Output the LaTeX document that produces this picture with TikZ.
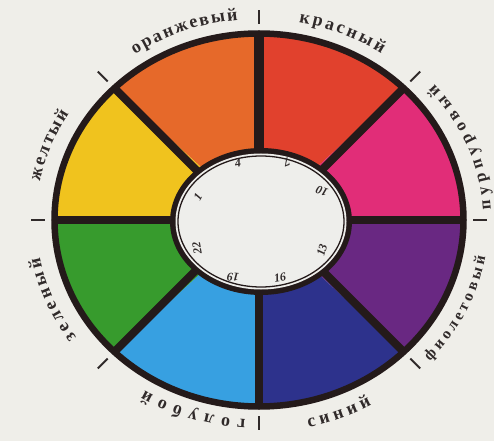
\documentclass[tikz,border=0pt]{standalone}
\usepackage{fontspec}
\setmainfont{Liberation Serif}
\usetikzlibrary{decorations.text}
\definecolor{bg}{HTML}{EFEEE9}
\definecolor{dark}{HTML}{241A1A}
\definecolor{txt}{HTML}{302A2A}
\definecolor{inner}{HTML}{EEEEEB}
\definecolor{corange}{HTML}{E6692A}
\definecolor{cred}{HTML}{E1412D}
\definecolor{cmag}{HTML}{E12D78}
\definecolor{cviol}{HTML}{692882}
\definecolor{cblue}{HTML}{2D328C}
\definecolor{clblue}{HTML}{37A0E1}
\definecolor{cgreen}{HTML}{379B2D}
\definecolor{cyellow}{HTML}{F0C31E}
\newcommand\arclabel[6]{%
  \path[decorate, decoration={text along path, text align={fit to path},
    text color=txt, text={|\fontsize{#6}{#6}\selectfont\bfseries|#5}}]
    (#1:#3 and #4) arc[start angle=#1, end angle=#2, x radius=#3, y radius=#4];}
\tikzset{
  num/.style={font=\fontsize{12}{12}\selectfont\bfseries\itshape, text=txt, inner sep=0pt},
  divider/.style={line width=8pt, dark},
  tickmark/.style={line width=2pt, txt}
}
\begin{document}
\begin{tikzpicture}[x=1pt,y=1pt]
\useasboundingbox[fill=bg] (-259pt,-221pt) rectangle (235pt,220pt);
% sectors
\foreach \s/\e/\c in {90/135/corange, 45/90/cred, 0/45/cmag, -45/0/cviol,
  -90/-45/cblue, -135/-90/clblue, 180/225/cgreen, 135/180/cyellow}
  \fill[\c] (0pt,0pt) -- (\s:204.5pt and 186.5pt)
    arc[start angle=\s, end angle=\e, x radius=204.5pt, y radius=186.5pt] -- cycle;
% dividers
\foreach \t in {0,45,135,180,225,270,315}
  \draw[divider] (\t:78pt and 60pt) -- (\t:205pt and 187pt);
\draw[divider, line width=10pt] (90:78pt and 60pt) -- (90:205pt and 187pt);
% outer border
\draw[line width=6.5pt, dark] (0pt,0pt) ellipse[x radius=204.5pt, y radius=186.5pt];
% inner disc
\fill[dark] (2pt,-1.5pt) ellipse[x radius=91pt, y radius=73.5pt];
\fill[inner] (2pt,-1.5pt) ellipse[x radius=85.5pt, y radius=68pt];
\draw[dark, line width=1.3pt] (2pt,-1.5pt) ellipse[x radius=83pt, y radius=65.5pt];
% ticks
\foreach \t in {0,45,...,315}
  \draw[tickmark] (\t:214pt and 196pt) -- (\t:228pt and 210pt);
% labels
\arclabel{124.5}{95.5}{219pt}{201pt}{оранжевый}{18}
\arclabel{79.5}{56}{219pt}{201pt}{красный}{18}
\arclabel{3}{41}{232pt}{206pt}{пурпуровый}{17}
\arclabel{-42}{-10}{230pt}{211pt}{фиолетовый}{15.5}
\arclabel{-77.5}{-60.5}{229pt}{212pt}{синий}{18}
\arclabel{-93.5}{-121.5}{219pt}{200pt}{голубой}{18}
\arclabel{215}{190.5}{223pt}{204pt}{зеленый}{18}
\arclabel{169}{148.5}{223pt}{204pt}{желтый}{18}
% numbers
\node[num, rotate=60]  (n1)  at (-61pt,23pt) {1};
\node[num, rotate=10]  (n4)  at (-21pt,57pt) {4};
\node[num, rotate=200] (n7)  at (28pt,58pt) {7};
\node[num, rotate=160] (n10) at (63pt,29pt) {10};
\node[num, rotate=75]  (n13) at (63pt,-30pt) {13};
\node[num, rotate=10]  (n16) at (21pt,-58pt) {16};
\node[num, rotate=175] (n19) at (-26pt,-57pt) {19};
\node[num, rotate=100] (n22) at (-62pt,-28pt) {22};
\end{tikzpicture}
\end{document}
